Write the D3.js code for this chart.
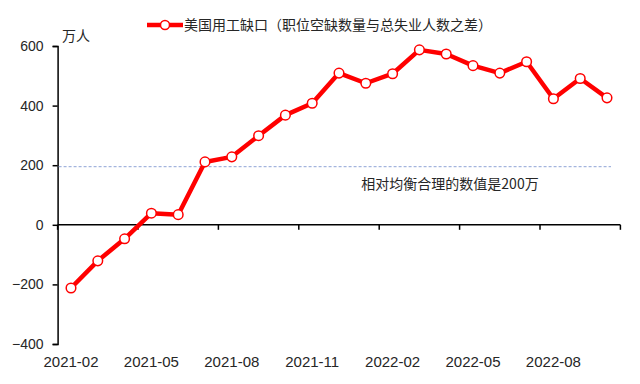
<!DOCTYPE html>
<html>
<head>
<meta charset="utf-8">
<script src="https://cdn.jsdelivr.net/npm/d3@7"></script>
<style>
  body { margin: 0; background: #fff; }
  svg { font-family: "Noto Sans CJK SC", sans-serif; }
</style>
</head>
<body>
<svg id="chart" width="640" height="384"></svg>
<script>
const months = ["2021-02","2021-03","2021-04","2021-05","2021-06","2021-07","2021-08",
  "2021-09","2021-10","2021-11","2021-12","2022-01","2022-02","2022-03","2022-04",
  "2022-05","2022-06","2022-07","2022-08","2022-09","2022-10"];
const gap = [-212, -121, -47, 39, 34, 211, 228, 299, 368, 408, 509, 475, 507, 587, 573,
  534, 509, 547, 423, 491, 426];
const yTicks = [-400, -200, 0, 200, 400, 600];
const labelMonths = ["2021-02","2021-05","2021-08","2021-11","2022-02","2022-05","2022-08"];
const balance = 195;
const legendText = "美国用工缺口（职位空缺数量与总失业人数之差）";
const noteText = "相对均衡合理的数值是200万";

const svg = d3.select("#chart");
const plotLeft = 57.6, plotRight = 620.4, plotTop = 46, plotBottom = 344;
const ink = "#262626";

const x = d3.scaleBand().domain(months).range([plotLeft, plotRight]);
const y = d3.scaleLinear().domain([-400, 600]).range([plotBottom, plotTop]);
const cx = d => x(d) + x.bandwidth() / 2;

// y axis
const yAxis = svg.append("g")
  .attr("transform", `translate(${plotLeft},0)`)
  .call(d3.axisLeft(y).tickValues(yTicks).tickSize(5).tickPadding(9).tickFormat(d3.format("d")));
yAxis.select(".domain").attr("stroke", "#000").attr("stroke-width", 1.5);
yAxis.selectAll(".tick line").attr("stroke", "#000").attr("stroke-width", 1.5);
yAxis.selectAll("text").attr("font-size", 14).attr("fill", ink)
  .attr("font-family", "'Liberation Sans', sans-serif");

svg.append("text").attr("x", 62).attr("y", 41)
  .attr("font-size", 14).attr("fill", ink).text("万人");

// balance line
svg.append("line")
  .attr("x1", plotLeft + 1).attr("x2", 611)
  .attr("y1", y(balance)).attr("y2", y(balance))
  .attr("stroke", "#8ea3d6").attr("stroke-width", 1).attr("stroke-dasharray", "3,2");

svg.append("text").attr("x", 450).attr("y", 189).attr("text-anchor", "middle")
  .attr("font-size", 14).attr("fill", ink).text(noteText);

// x axis line at zero with tick marks on band edges
const edges = months.filter((m, i) => i % 3 === 0).map(m => x(m)).concat([plotRight]);
const zero = svg.append("g");
zero.append("line").attr("x1", plotLeft).attr("x2", plotRight)
  .attr("y1", y(0)).attr("y2", y(0)).attr("stroke", "#000").attr("stroke-width", 1.5);
zero.selectAll("line.tk").data(edges).join("line").attr("class", "tk")
  .attr("x1", d => d).attr("x2", d => d)
  .attr("y1", y(0)).attr("y2", y(0) + 5)
  .attr("stroke", "#000").attr("stroke-width", 1.5);

// x labels along the bottom
const xAxis = svg.append("g")
  .attr("transform", `translate(0,${plotBottom})`)
  .call(d3.axisBottom(x).tickValues(labelMonths).tickSize(0).tickPadding(12));
xAxis.select(".domain").remove();
xAxis.selectAll("text").attr("font-size", 15).attr("fill", ink)
  .attr("font-family", "'Liberation Sans', sans-serif");

// series
const line = d3.line().x((d, i) => cx(months[i])).y(d => y(d));
svg.append("path").datum(gap)
  .attr("d", line).attr("fill", "none")
  .attr("stroke", "#f00").attr("stroke-width", 4.5).attr("stroke-linejoin", "round");

svg.selectAll("circle.pt").data(gap).join("circle").attr("class", "pt")
  .attr("cx", (d, i) => cx(months[i])).attr("cy", d => y(d)).attr("r", 4.8)
  .attr("fill", "#fff").attr("stroke", "#f00").attr("stroke-width", 1.5);

// legend
const lg = svg.append("g").attr("transform", "translate(147,25)");
lg.append("line").attr("x1", 0).attr("x2", 36).attr("stroke", "#f00").attr("stroke-width", 4.5);
lg.append("circle").attr("cx", 18).attr("r", 4.5)
  .attr("fill", "#fff").attr("stroke", "#f00").attr("stroke-width", 1.5);
lg.append("text").attr("x", 37).attr("y", 5)
  .attr("font-size", 14).attr("fill", ink).text(legendText);
</script>
</body>
</html>
